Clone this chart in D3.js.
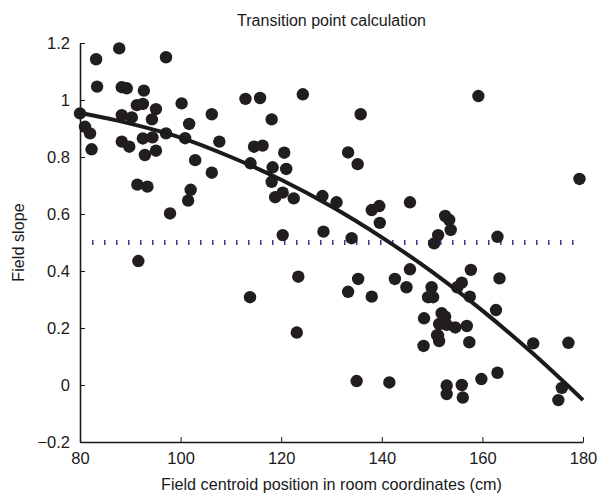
<!DOCTYPE html>
<html>
<head>
<meta charset="utf-8">
<script src="https://cdn.jsdelivr.net/npm/d3@7"></script>
<style>
  body { margin: 0; background: #fff; }
  text { font-family: "Liberation Sans", Arial, sans-serif; fill: #1a1a1a; }
</style>
</head>
<body>
<div id="chart"></div>
<script>
// scatter points: field centroid (cm) and field slope
const posX = [80.0, 83.2, 87.8, 97.1, 83.4, 88.3, 89.3, 92.7, 91.3, 92.5, 100.2, 95.1, 88.3, 90.3, 94.3,
  101.7, 106.2, 81.0, 82.0, 82.3, 88.3, 89.8, 92.5, 94.4, 97.1, 100.9, 107.7, 92.9, 95.1, 102.9,
  106.2, 91.4, 93.4, 102.0, 101.5, 97.9, 91.6,
  112.9, 115.8, 124.3, 135.8, 118.1, 114.6, 116.3, 120.6, 133.3, 135.2, 113.9, 118.3, 121.0, 118.1,
  118.8, 120.3, 122.5, 128.2, 131.0, 138.0, 139.5, 139.6, 145.6, 120.3, 128.4, 134.0, 123.4, 113.8,
  135.3, 133.3, 138.0, 142.6, 144.9, 145.6, 123.1, 135.0, 141.5,
  179.3, 159.2, 152.6, 153.4, 153.7, 151.2, 150.4, 163.0, 157.7, 163.4, 155.9, 155.0, 149.9, 149.2,
  150.2, 157.5, 162.7, 148.4, 151.9, 152.6, 151.4, 152.9, 154.6, 156.9, 151.2, 151.0, 151.4, 148.3,
  157.4, 170.1, 177.1, 163.0, 159.8, 152.9, 152.9, 155.9, 156.1, 175.8, 175.1];
const slopeY = [0.953, 1.143, 1.181, 1.150, 1.047, 1.045, 1.041, 1.033, 0.982, 0.986, 0.988, 0.968, 0.947, 0.939, 0.932,
  0.916, 0.950, 0.906, 0.883, 0.827, 0.854, 0.836, 0.865, 0.869, 0.883, 0.866, 0.854, 0.807, 0.822, 0.789,
  0.745, 0.703, 0.696, 0.685, 0.647, 0.602, 0.435,
  1.004, 1.007, 1.020, 0.950, 0.932, 0.836, 0.840, 0.815, 0.816, 0.775, 0.778, 0.764, 0.758, 0.713,
  0.659, 0.675, 0.655, 0.663, 0.641, 0.614, 0.628, 0.569, 0.641, 0.526, 0.538, 0.515, 0.380, 0.308,
  0.372, 0.327, 0.310, 0.372, 0.343, 0.406, 0.184, 0.014, 0.009,
  0.723, 1.014, 0.593, 0.579, 0.544, 0.526, 0.497, 0.520, 0.404, 0.374, 0.359, 0.343, 0.343, 0.308,
  0.308, 0.310, 0.263, 0.234, 0.252, 0.240, 0.214, 0.211, 0.202, 0.207, 0.173, 0.175, 0.154, 0.137,
  0.150, 0.146, 0.148, 0.043, 0.021, -0.002, -0.032, 0.000, -0.044, -0.010, -0.053];

// fitted curve
const fitX = [80, 90, 100, 110, 120, 130, 140, 150, 160, 170, 180];
const fitY = [0.955, 0.917, 0.868, 0.800, 0.720, 0.626, 0.518, 0.397, 0.261, 0.111, -0.053];

const threshold = 0.5;
const xTicks = [80, 100, 120, 140, 160, 180];
const yTicks = [-0.2, 0, 0.2, 0.4, 0.6, 0.8, 1, 1.2];

const W = 602, H = 494;
const margin = { top: 43, right: 19, bottom: 52, left: 80 };
const width = W - margin.left - margin.right,
    height = H - margin.top - margin.bottom;

const svg = d3.select("#chart").append("svg")
    .attr("width", W).attr("height", H);
const g = svg.append("g")
    .attr("transform", "translate(" + margin.left + "," + margin.top + ")");

const x = d3.scaleLinear().domain([80, 180]).range([0, width]);
const y = d3.scaleLinear().domain([-0.2, 1.2]).range([height, 0]);

// threshold line (dotted)
g.append("line")
    .attr("x1", x(82.4)).attr("x2", x(180))
    .attr("y1", y(threshold)).attr("y2", y(threshold))
    .attr("stroke", "#2a2a8e")
    .attr("stroke-width", 5)
    .attr("stroke-dasharray", "1.4,10.6");

// points
g.selectAll(".dot")
    .data(posX.map((v, i) => [v, slopeY[i]]))
    .enter().append("circle")
    .attr("class", "dot")
    .attr("cx", d => x(d[0]))
    .attr("cy", d => y(d[1]))
    .attr("r", 6.2)
    .attr("fill", "#221e1f");

// fit curve
g.append("path")
    .datum(fitX.map((v, i) => [v, fitY[i]]))
    .attr("fill", "none")
    .attr("stroke", "#1c1a1a")
    .attr("stroke-width", 4)
    .attr("d", d3.line().x(d => x(d[0])).y(d => y(d[1])).curve(d3.curveCatmullRom));

// axes
const fmt = d => d < 0 ? "\u2212" + Math.abs(d) : String(d);
const xAxis = g.append("g")
    .attr("transform", "translate(0," + height + ")")
    .call(d3.axisBottom(x).tickValues(xTicks).tickSizeInner(-5).tickSizeOuter(0).tickPadding(10));
const yAxis = g.append("g")
    .call(d3.axisLeft(y).tickValues(yTicks).tickFormat(fmt).tickSizeInner(-5).tickSizeOuter(0).tickPadding(10));
[xAxis, yAxis].forEach(a => {
    a.select(".domain").attr("stroke", "#1a1a1a").attr("stroke-width", 1.6);
    a.selectAll(".tick line").attr("stroke", "#1a1a1a").attr("stroke-width", 1);
    a.selectAll("text").style("font-size", "16.5px").attr("fill", "#1a1a1a");
});

// title and labels
svg.append("text")
    .attr("x", margin.left + width / 2).attr("y", 26)
    .attr("text-anchor", "middle")
    .style("font-size", "16px")
    .text("Transition point calculation");
svg.append("text")
    .attr("x", margin.left + width / 2).attr("y", 490)
    .attr("text-anchor", "middle")
    .style("font-size", "16.2px")
    .text("Field centroid position in room coordinates (cm)");
svg.append("text")
    .attr("transform", "translate(24," + (margin.top + height / 2) + ")rotate(-90)")
    .attr("text-anchor", "middle")
    .style("font-size", "16.2px")
    .text("Field slope");
</script>
</body>
</html>
